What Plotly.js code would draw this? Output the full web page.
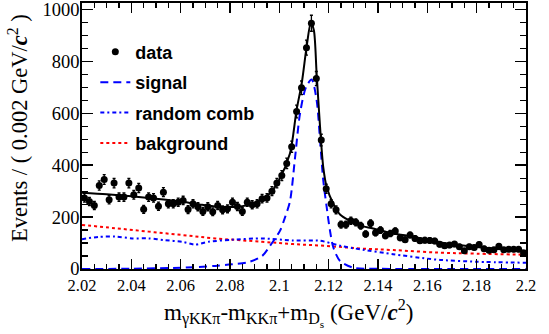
<!DOCTYPE html>
<html>
<head>
<meta charset="utf-8">
<script src="https://cdn.plot.ly/plotly-3.0.1.min.js"></script>
<style>html,body{margin:0;padding:0;background:#fff;}#chart{width:549px;height:334px;}</style>
</head>
<body>
<div id="chart"></div>
<script>
// Bin centres (bin width 0.002 GeV/c^2)
const binCenters = [
2.021,2.023,2.025,2.027,2.029,2.031,2.033,2.035,2.037,2.039,
2.041,2.043,2.045,2.047,2.049,2.051,2.053,2.055,2.057,2.059,
2.061,2.063,2.065,2.067,2.069,2.071,2.073,2.075,2.077,2.079,
2.081,2.083,2.085,2.087,2.089,2.091,2.093,2.095,2.097,2.099,
2.101,2.103,2.105,2.107,2.109,2.111,2.113,2.115,2.117,2.119,
2.121,2.123,2.125,2.127,2.129,2.131,2.133,2.135,2.137,2.139,
2.141,2.143,2.145,2.147,2.149,2.151,2.153,2.155,2.157,2.159,
2.161,2.163,2.165,2.167,2.169,2.171,2.173,2.175,2.177,2.179,
2.181,2.183,2.185,2.187,2.189,2.191,2.193,2.195,2.197,2.199];
const dataCounts = [
274,260,245,322,345,267,331,277,277,331,
286,312,230,277,274,242,296,251,251,257,
264,229,251,240,222,240,221,245,228,232,
257,241,222,257,248,251,271,274,300,331,
360,407,471,607,698,853,947,734,497,309,
251,228,171,171,186,180,167,135,176,140,
150,128,137,146,120,113,131,118,109,111,
110,108,95,90,92,96,86,70,86,83,
94,78,72,74,88,74,76,76,76,62];

// Total fit curve
const totalX = [2.020,2.030,2.040,2.050,2.060,2.068,2.075,2.083,2.090,2.096,2.100,2.1043,2.107,2.1091,2.1111,2.1128,2.1140,2.1151,2.1165,2.1178,2.1192,2.1219,2.1246,2.1286,2.1327,2.138,2.146,2.152,2.165,2.169,2.180,2.190,2.200];
const totalY = [294,288,280,271,260,248,240,240,255,290,345,445,613,717,859,950,920,756,549,393,316,251,210,186,167,156,137,128,103,96,85,76,70];

// Signal component
const signalX = [2.020,2.040,2.0605,2.074,2.0808,2.0877,2.093,2.0962,2.1003,2.1023,2.1043,2.1064,2.1084,2.1108,2.1131,2.1151,2.1165,2.1178,2.1192,2.1205,2.1219,2.1246,2.130,2.140,2.200];
const signalY = [0,1,5,12,18,27,50,89,148,199,260,432,600,700,730,652,497,342,238,150,83,31,5,1,0];

// Random combination component
const randX = [2.020,2.0268,2.0334,2.0403,2.047,2.0538,2.0605,2.0659,2.0714,2.0808,2.093,2.1055,2.1165,2.1258,2.1327,2.1461,2.1599,2.1651,2.180,2.200];
const randY = [115,124,125,118,118,111,105,94,105,113,118,110,109,87,76,57,40,35,28,24];

// Background component
const bkgX = [2.020,2.0335,2.047,2.0605,2.074,2.093,2.1057,2.119,2.1327,2.1462,2.165,2.180,2.200];
const bkgY = [170,157,144,131,118,105,96,89,79,73,63,59,55];

const traces = [
  {x: bkgX, y: bkgY, type:'scatter', mode:'lines', name:'bakground', legendgroup:'d', legendrank:4,
   line:{color:'#ff0000', width:2, dash:'3px,3px', shape:'spline'}},
  {x: randX, y: randY, type:'scatter', mode:'lines', name:'random comb', legendgroup:'c', legendrank:3,
   line:{color:'#0000ff', width:2, dash:'4px,3px,2px,3px', shape:'spline', smoothing:0.6}},
  {x: signalX, y: signalY, type:'scatter', mode:'lines', name:'signal', legendgroup:'b', legendrank:2,
   line:{color:'#0000ff', width:2, dash:'8px,5px', shape:'spline', smoothing:0.8}},
  {x: totalX, y: totalY, type:'scatter', mode:'lines', name:'fit', showlegend:false,
   line:{color:'#000000', width:2, shape:'spline', smoothing:0.8}},
  {x: binCenters, y: dataCounts, type:'scatter', mode:'markers', name:'data', legendgroup:'a', legendrank:1,
   marker:{color:'#000000', size:7, symbol:'circle'},
   error_y:{type:'sqrt', color:'#000000', thickness:1.3, width:1.5}}
];

const serif = 'Liberation Serif, Times New Roman, serif';
const layout = {
  width:549, height:334,
  margin:{l:82, r:23, t:3, b:65},
  paper_bgcolor:'#ffffff', plot_bgcolor:'#ffffff',
  showlegend:true,
  legend:{x:0.03, y:0.885, xanchor:'left', yanchor:'top', bgcolor:'rgba(0,0,0,0)',
    font:{family:'Liberation Sans, Arial, sans-serif', size:18, color:'#000', weight:700},
    traceorder:'grouped', tracegroupgap:4, itemwidth:30},
  xaxis:{range:[2.02,2.2], tickmode:'array', tickvals:[2.02,2.04,2.06,2.08,2.1,2.12,2.14,2.16,2.18,2.2],
    ticktext:['2.02','2.04','2.06','2.08','2.1','2.12','2.14','2.16','2.18','2.2'],
    ticks:'inside', ticklen:10, tickwidth:1.5, tickcolor:'#000',
    minor:{dtick:0.005, ticks:'inside', ticklen:5, tickwidth:1.2, tickcolor:'#000', showgrid:false},
    showline:true, linewidth:1.8, linecolor:'#000', mirror:'allticks',
    showgrid:false, zeroline:false, ticklabeloverflow:'allow',
    tickfont:{family:serif, size:16.5, color:'#000'}},
  yaxis:{range:[0,1025], tickmode:'array', tickvals:[0,200,400,600,800,1000],
    ticks:'inside', ticklen:11, tickwidth:1.5, tickcolor:'#000',
    minor:{dtick:50, ticks:'inside', ticklen:6, tickwidth:1.2, tickcolor:'#000', showgrid:false},
    showline:true, linewidth:1.8, linecolor:'#000', mirror:'allticks',
    showgrid:false, zeroline:false, ticklabeloverflow:'allow', ticklabelstandoff:-3,
    tickfont:{family:serif, size:18.5, color:'#000'}},
  annotations:[
    {text:'Events / ( 0.002 GeV/<b><i>c</i></b><sup>2</sup> )', xref:'paper', yref:'paper',
     x:-0.144, y:0.53, xanchor:'center', yanchor:'middle', textangle:-90, showarrow:false,
     font:{family:serif, size:22.5, color:'#000'}},
    {text:'m<sub>γKKπ</sub>-m<sub>KKπ</sub>+m<sub>D<sub>s</sub></sub> (GeV/<b><i>c</i></b><sup>2</sup>)', xref:'paper', yref:'paper',
     x:0.466, y:-0.165, xanchor:'center', yanchor:'middle', showarrow:false,
     font:{family:serif, size:23, color:'#000'}}
  ]
};
Plotly.newPlot('chart', traces, layout, {staticPlot:true, displayModeBar:false});
</script>
</body>
</html>
